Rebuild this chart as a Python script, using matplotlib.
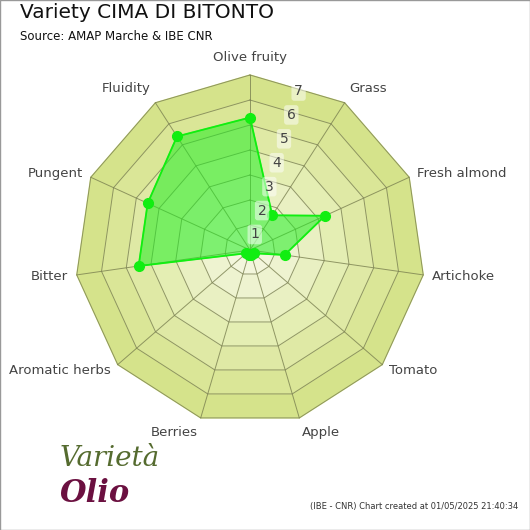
import numpy as np
import matplotlib.pyplot as plt
from matplotlib.patches import Rectangle

categories = ["Olive fruity", "Grass", "Fresh almond", "Artichoke", "Tomato", "Apple",
              "Berries", "Aromatic herbs", "Bitter", "Pungent", "Fluidity"]
values = [5.3, 1.65, 3.3, 1.4, 0.2, 0.2, 0.2, 0.2, 4.5, 4.5, 5.4]
rings = [1, 2, 3, 4, 5, 6, 7]
ring_colors = ["#f3f6dc", "#eef3d0", "#e9f0c2", "#e4eeb3", "#dfe9a5", "#dae697", "#d5e38b"]

n = len(categories)
ang = np.arange(n) * 2 * np.pi / n


def xy(r, a):
    return r * np.sin(a), r * np.cos(a)


fig = plt.figure(figsize=(5.3, 5.3), dpi=100)
fig.patches.append(Rectangle((0, 0), 1, 1, transform=fig.transFigure, fill=False,
                             edgecolor="#999999", linewidth=1))
ax = fig.add_axes([50 / 530, 80 / 530, 400 / 530, 400 / 530])
ax.set_xlim(-8, 8)
ax.set_ylim(-8, 8)
ax.set_aspect("equal")
ax.axis("off")

closed = np.append(ang, ang[0])
# bands from outside in
for r, c in sorted(zip(rings, ring_colors), reverse=True):
    x, y = xy(r, closed)
    ax.fill(x, y, color=c, zorder=1)
    ax.plot(x, y, color="#7a8050", linewidth=0.7, alpha=0.8, zorder=2)
for a in ang:
    x, y = xy(np.array([0, rings[-1]]), a)
    ax.plot(x, y, color="#7a8050", linewidth=0.7, alpha=0.8, zorder=2)

# data
v = np.append(values, values[0])
x, y = xy(v, closed)
ax.fill(x, y, color="#22ee22", alpha=0.55, zorder=3)
ax.plot(x, y, color="#11ee11", linewidth=1.3, zorder=4)
ax.plot(x[:-1], y[:-1], "o", color="#11ee11", markersize=7, zorder=5)

# tick labels
for r in rings:
    tx, ty = xy(r - 0.35, np.radians(17))
    ax.text(tx, ty, str(r), ha="center", va="center", fontsize=10, color="#444444", zorder=6,
            bbox=dict(boxstyle="round,pad=0.2", fc="white", ec="none", alpha=0.5))

# category labels
for name, a in zip(categories, ang):
    tx, ty = xy(7.35, a)
    s, c = np.sin(a), np.cos(a)
    ha = "center" if abs(s) < 0.15 else ("left" if s > 0 else "right")
    if abs(s) < 0.15:
        ty += 0.1 * np.sign(c)
    va = "center"
    if abs(s) < 0.6:
        va = "bottom" if c > 0 else "top"
    ax.text(tx, ty, name, ha=ha, va=va, fontsize=9.5, color="#444444")

fig.text(20 / 530, 1 - 13 / 530, "Variety CIMA DI BITONTO", fontsize=14.5, va="center", color="#111111")
fig.text(20 / 530, 1 - 36 / 530, "Source: AMAP Marche & IBE CNR", fontsize=8.5, va="center", color="#111111")
fig.text(518 / 530, 1 - 506 / 530, "(IBE - CNR) Chart created at 01/05/2025 21:40:34",
         fontsize=6, ha="right", va="center", color="#333333")

# logo text
fig.text(60 / 530, 1 - 458 / 530, "Varietà", fontsize=20, style="italic", color="#556b2f",
         family="DejaVu Serif", va="center")
fig.text(60 / 530, 1 - 494 / 530, "Olio", fontsize=22, style="italic", color="#6b1040",
         family="DejaVu Serif", fontweight="bold", va="center")

fig.savefig("out.png", dpi=100)
